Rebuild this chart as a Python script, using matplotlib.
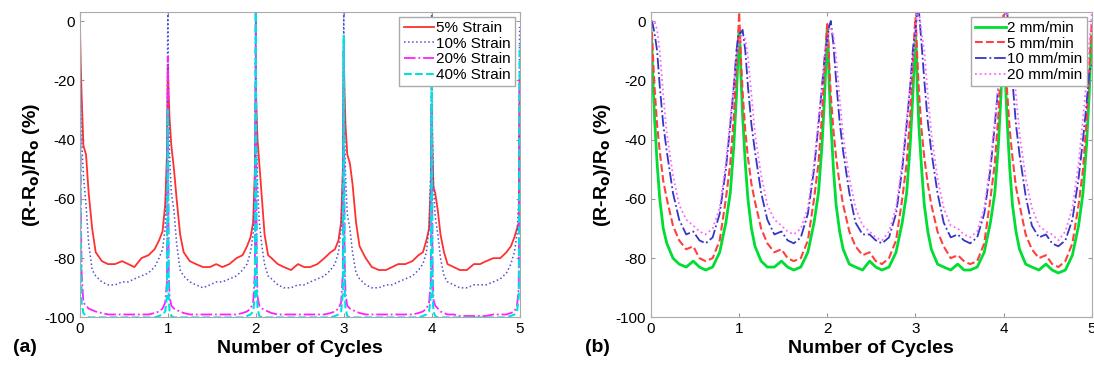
import matplotlib.pyplot as plt

plt.rcParams['font.family'] = ['Liberation Sans', 'DejaVu Sans']
plt.rcParams['mathtext.default'] = 'bf'
plt.rcParams['axes.unicode_minus'] = False

# x positions inside one cycle (denser near the peaks)
offsets = [0, 0.01, 0.02, 0.04, 0.07, 0.1, 0.14, 0.18, 0.25, 0.32, 0.4,
           0.48, 0.55, 0.62, 0.7, 0.78, 0.85, 0.9, 0.94, 0.97, 0.99]
cycles = [0, 1, 2, 3, 4]
x = [c + o for c in cycles for o in offsets] + [5]

# ---- panel (a): strain amplitude
strain_labels = ["5% Strain", "10% Strain", "20% Strain", "40% Strain"]
s5 = [0, -15, -25, -42, -45, -58, -70, -78, -81, -82, -82, -81, -82, -83, -80, -79, -77, -74, -71, -62, -45,
      -15, -25, -33, -42, -50, -60, -72, -78, -81, -82, -83, -83, -82, -83, -82, -80, -79, -76, -73, -68, -50,
      -22, -32, -40, -48, -60, -72, -79, -80, -82, -83, -84, -82, -83, -83, -82, -80, -78, -77, -74, -68, -50,
      -10, -25, -35, -45, -48, -55, -68, -76, -80, -83, -84, -84, -83, -82, -82, -81, -79, -78, -74, -70, -55,
      -28, -45, -56, -58, -64, -72, -78, -82, -83, -84, -84, -82, -82, -81, -80, -80, -78, -76, -73, -70, -68,
      -20]
s10 = [0, -25, -40, -52, -62, -75, -84, -86, -88, -89, -89, -88, -88, -87, -86, -85, -83, -80, -77, -70, -50,
       3, -30, -45, -58, -64, -75, -84, -86, -88, -89, -90, -89, -88, -88, -87, -86, -84, -82, -78, -72, -55,
       3, -40, -55, -68, -76, -82, -86, -87, -89, -90, -90, -89, -89, -88, -87, -86, -84, -82, -78, -70, -50,
       3, -35, -52, -65, -70, -78, -85, -87, -89, -90, -90, -89, -89, -88, -87, -86, -84, -82, -78, -70, -50,
       3, -40, -55, -66, -72, -80, -86, -88, -89, -90, -90, -89, -89, -89, -88, -87, -85, -82, -78, -72, -60,
       -2]
s20 = [0, -60, -85, -95, -96, -97, -97.5, -98, -98.5, -99, -99, -99, -99, -99, -99, -99, -98.5, -98, -97, -95, -88,
       -12, -85, -93, -96, -97, -97.5, -98, -98.5, -99, -99, -99, -99, -99, -99, -99, -99, -98.5, -98, -97, -95, -85,
       3, -80, -93, -96, -97, -97.5, -98, -98.5, -99, -99, -99, -99, -99, -99, -99, -99, -98.5, -98, -97, -95, -85,
       -8, -80, -92, -96, -97, -97.5, -98, -98.5, -99, -99, -99, -99, -99, -99, -99, -99, -98.5, -98, -97, -95, -88,
       -30, -85, -94, -96, -97, -98, -98.5, -99, -99, -99.5, -99.5, -99.5, -99.5, -99.5, -99, -99, -99, -98.5, -98, -96, -90,
       -20]
s40 = [0, -70, -95, -98.5, -99.5, -100, -100, -100, -100, -100, -100, -100, -100, -100, -100, -100, -100, -99.5, -99, -98, -93,
       -30, -93, -98, -99.5, -100, -100, -100, -100, -100, -100, -100, -100, -100, -100, -100, -100, -100, -99.5, -99, -98, -93,
       3, -90, -97, -99.5, -100, -100, -100, -100, -100, -100, -100, -100, -100, -100, -100, -100, -100, -99.5, -99, -98, -92,
       -5, -90, -97, -99.5, -100, -100, -100, -100, -100, -100, -100, -100, -100, -100, -100, -100, -100, -99.5, -99, -98, -93,
       -20, -92, -98, -99.5, -100, -100, -100, -100, -100, -100, -100, -100, -100, -100, -100, -100, -100, -99.5, -99, -98, -93,
       -8]

# ---- panel (b): strain rate
rate_labels = ["2 mm/min", "5 mm/min", "10 mm/min", "20 mm/min"]
r2 = [-2, -8, -18, -32, -48, -60, -70, -75, -80, -82, -83, -81, -83, -84, -83, -78, -68, -58, -42, -25, -10,
      -3, -8, -18, -32, -48, -60, -70, -76, -81, -83, -83, -81, -83, -84, -83, -78, -68, -58, -42, -25, -10,
      -2, -9, -20, -34, -50, -62, -71, -77, -82, -83, -84, -81, -83, -84, -83, -78, -68, -58, -42, -25, -12,
      -5, -10, -22, -36, -50, -62, -71, -77, -82, -83, -84, -82, -84, -84, -83, -78, -68, -58, -42, -25, -10,
      -3, -9, -20, -34, -50, -62, -71, -77, -82, -83, -84, -82, -84, -85, -84, -79, -69, -58, -42, -25, -10,
      -5]
r5 = [0, -3, -10, -22, -35, -44, -54, -60, -69, -74, -77, -76, -80, -81, -80, -74, -60, -48, -32, -15, -5,
      3, -4, -12, -24, -37, -46, -55, -61, -70, -75, -78, -77, -80, -81, -80, -74, -60, -48, -32, -15, -5,
      -1, -5, -13, -25, -37, -46, -55, -62, -71, -76, -79, -78, -81, -82, -80, -74, -60, -48, -32, -15, -3,
      1, -4, -12, -24, -37, -46, -55, -62, -71, -76, -80, -79, -81, -82, -81, -75, -60, -48, -32, -15, -5,
      2, -4, -12, -24, -37, -46, -56, -62, -72, -77, -80, -79, -82, -83, -81, -75, -62, -50, -34, -17, -5,
      0]
r10 = [0, 0, -1, -4, -10, -22, -35, -44, -58, -67, -72, -71, -74, -75, -73, -65, -50, -35, -22, -10, -5,
       -5, -4, -4, -3, -10, -22, -35, -44, -58, -67, -72, -71, -74, -75, -73, -65, -50, -35, -22, -12, -8,
       -6, -4, -2, 0, -8, -20, -34, -44, -58, -68, -72, -72, -74, -75, -73, -65, -50, -35, -22, -10, -5,
       -4, 0, 3, 3, -8, -20, -34, -44, -58, -68, -73, -72, -74, -75, -73, -65, -50, -35, -22, -10, -5,
       -4, 0, 3, 3, -8, -20, -35, -45, -59, -69, -73, -72, -75, -76, -74, -67, -53, -40, -28, -18, -15,
       -15]
r20 = [0, 0, 0, 0, -3, -10, -25, -38, -52, -62, -67, -69, -71, -72, -70, -63, -48, -33, -22, -12, -8,
       -8, -6, -5, -5, -6, -12, -25, -38, -52, -62, -67, -69, -71, -72, -70, -63, -48, -33, -22, -12, -8,
       -8, -5, -3, -2, -5, -12, -26, -39, -53, -63, -69, -71, -73, -74, -71, -63, -48, -33, -22, -12, -8,
       -5, 0, 3, 3, -4, -10, -25, -38, -53, -63, -69, -70, -72, -73, -71, -63, -48, -33, -22, -12, -6,
       -5, 0, 3, 3, -4, -10, -25, -38, -53, -63, -69, -71, -72, -74, -71, -63, -48, -33, -20, -8, -2,
       3]

xticks = [0, 1, 2, 3, 4, 5]
yticks = [0, -20, -40, -60, -80, -100]

fig = plt.figure(figsize=(10.94, 3.67), dpi=100)
axa = fig.add_axes([0.073, 0.135, 0.402, 0.832])
axb = fig.add_axes([0.595, 0.135, 0.403, 0.832])

axa.plot(x, s5, color="#ff3030", lw=1.3, ls="-", label=strain_labels[0])
axa.plot(x, s10, color="#5050d0", lw=1.1, ls=":", label=strain_labels[1])
axa.plot(x, s20, color="#ff20ff", lw=1.3, ls="-.", label=strain_labels[2])
axa.plot(x, s40, color="#00e0e0", lw=1.5, ls="--", label=strain_labels[3])

axb.plot(x, r2, color="#00dd33", lw=2.0, ls="-", label=rate_labels[0])
axb.plot(x, r5, color="#ff4040", lw=1.5, ls="--", label=rate_labels[1])
axb.plot(x, r10, color="#3535c8", lw=1.3, ls="-.", label=rate_labels[2])
axb.plot(x, r20, color="#ff66ff", lw=1.3, ls=":", label=rate_labels[3])

for ax in (axa, axb):
    ax.set_xlim(0, 5)
    ax.set_ylim(-100, 3)
    ax.set_xticks(xticks)
    ax.set_yticks(yticks)
    ax.tick_params(direction="in", top=True, right=True, labelsize=11,
                   color="#999999", length=3)
    for sp in ax.spines.values():
        sp.set_color("#aaaaaa")
        sp.set_linewidth(0.8)
    ax.set_xlabel("Number of Cycles", fontsize=14, fontweight="bold", labelpad=3)
    ax.set_ylabel("(R-R$_o$)/R$_o$ (%)", fontsize=14, fontweight="bold", labelpad=2)
    leg = ax.legend(loc="upper right", fontsize=11, handlelength=2.0,
                    handletextpad=0.1, borderaxespad=0.3, labelspacing=0.1,
                    borderpad=0.3, fancybox=False, framealpha=1)
    leg.get_frame().set_edgecolor("#aaaaaa")

fig.text(0.012, 0.04, "(a)", fontsize=14, fontweight="bold")
fig.text(0.535, 0.04, "(b)", fontsize=14, fontweight="bold")

fig.savefig("out.png", dpi=100)
